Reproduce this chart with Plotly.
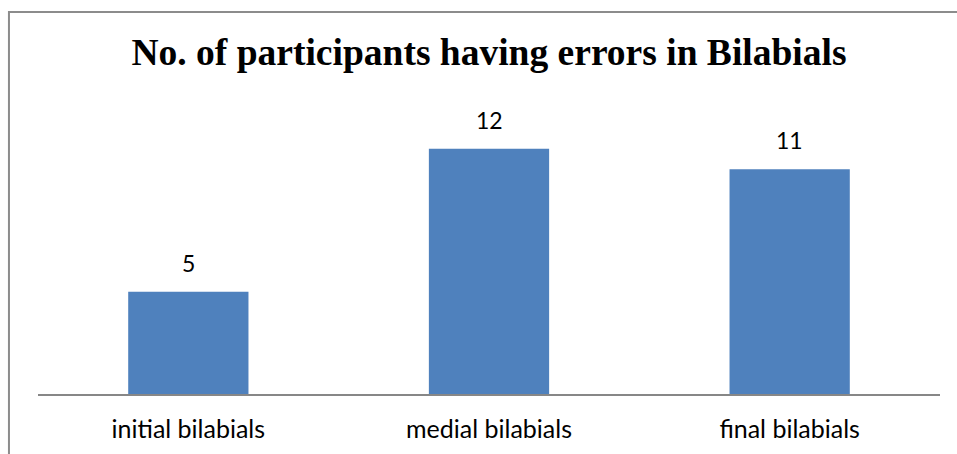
import plotly.graph_objects as go

# Number of participants with errors, by bilabial position
categories = ["initial bilabials", "medial bilabials", "final bilabials"]
participants = [5, 12, 11]

chart_title = "No. of participants having errors in Bilabials"

BAR_COLOR = "#4F81BD"
AXIS_COLOR = "#878787"
FRAME_COLOR = "#8C8C8C"
LABEL_FONT = "Lato, Open Sans, sans-serif"

fig = go.Figure(
    go.Bar(
        x=categories,
        y=participants,
        marker=dict(color=BAR_COLOR, line=dict(width=0)),
        hoverinfo="x+y",
    )
)

# Value labels above each bar
for cat, val in zip(categories, participants):
    fig.add_annotation(
        x=cat, y=val, text=str(val), showarrow=False,
        yanchor="bottom", yshift=13,
        font=dict(family=LABEL_FONT, size=23, color="#000000"),
    )

# Outer chart frame (top and left edges visible)
fig.add_shape(
    type="path", xref="paper", yref="paper",
    path="M -0.0322,-0.25 L -0.0322,1.3357 L 1.05,1.3357",
    line=dict(color=FRAME_COLOR, width=2),
)

fig.update_layout(
    width=957,
    height=454,
    margin=dict(l=38, r=17, t=108, b=60, autoexpand=False),
    paper_bgcolor="white",
    plot_bgcolor="white",
    bargap=0.6,
    showlegend=False,
    title=dict(
        text=f"<b>{chart_title}</b>",
        x=0.511, xanchor="center",
        y=1 - 52 / 454, yanchor="middle",
        font=dict(family="Liberation Serif, Times New Roman, serif", size=37.5, color="#000000"),
    ),
    xaxis=dict(
        automargin=False,
        showline=True, linecolor=AXIS_COLOR, linewidth=2,
        showgrid=False, ticks="", zeroline=False,
        ticklabelstandoff=12,
        tickfont=dict(family=LABEL_FONT, size=25, color="#000000"),
    ),
    yaxis=dict(
        automargin=False,
        range=[0, 14], visible=False, showgrid=False, zeroline=False,
    ),
)

fig.write_html("out.html")
